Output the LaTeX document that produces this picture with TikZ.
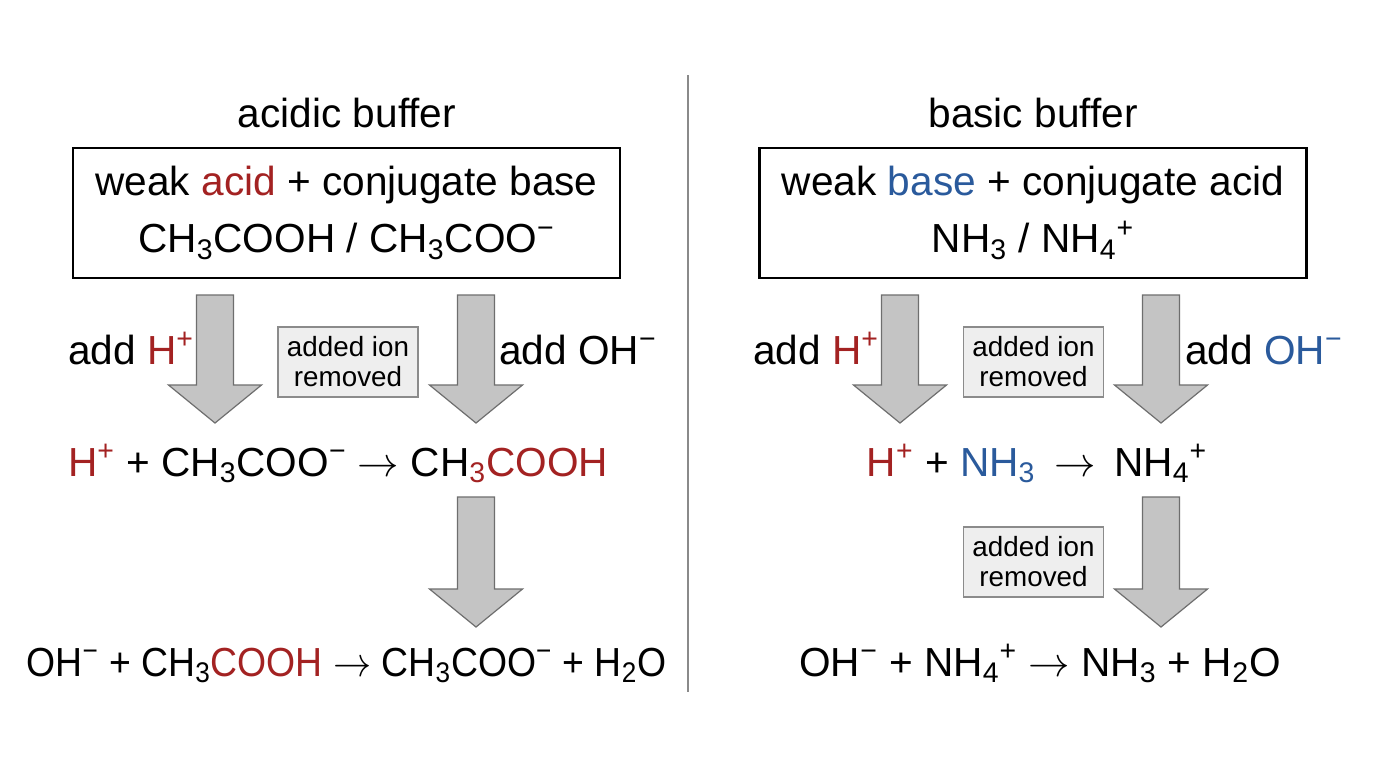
\documentclass[tikz,border=0pt]{standalone}
\usepackage{fontspec}
\setmainfont{Liberation Sans}
\usetikzlibrary{calc}
\definecolor{BufRed}{HTML}{A32222}
\definecolor{BufBlue}{HTML}{2A5A9C}
\definecolor{BufGrey}{HTML}{C4C4C4}
\definecolor{BufEdge}{HTML}{6E6E6E}
\definecolor{BufTag}{HTML}{EEEEEE}
\definecolor{BufRule}{HTML}{8A8A8A}
\tikzset{
  big/.style={font=\fontsize{20.3}{28.5}\selectfont,inner sep=0pt},
  title/.style={big,anchor=base},
  eqn/.style={big,anchor=base},
  mixbox/.style={big,draw=black,line width=1.2pt,align=center,
    minimum width=273.5pt,minimum height=65pt},
  tag/.style={draw=BufEdge!80,fill=BufTag,line width=0.6pt,align=center,inner sep=0pt,
    font=\fontsize{13.9}{15}\selectfont,minimum width=70pt,minimum height=35pt},
  fatarrow/.style={draw=BufEdge,fill=BufGrey,line width=0.6pt,
    to path={let \p1=(\tikztostart),\p2=(\tikztotarget) in
      (\x1-9.25pt,\y1) -- (\x1+9.25pt,\y1) -- (\x1+9.25pt,\y2+19pt)
      -- (\x1+23.25pt,\y2+19pt) -- (\x1,\y2) -- (\x1-23.25pt,\y2+19pt)
      -- (\x1-9.25pt,\y2+19pt) -- cycle}},
  rule/.style={draw=BufRule,line width=0.8pt}
}
\begin{document}
\begin{tikzpicture}[x=0.5pt,y=-0.5pt]
  \useasboundingbox[fill=white] (0,0) rectangle (1376,768);
  \coordinate (ruleTop) at (688,75); \coordinate (ruleEnd) at (688,692);
  \draw[rule] (ruleTop) -- (ruleEnd);

  \node[title] (acidT) at (347,127) {acidic buffer};
  \node[mixbox] (acidMix) at (346.5,213)
    {\raisebox{-1.5pt}{weak \textcolor{BufRed}{acid} + conjugate base}\\\raisebox{-1.5pt}{CH\textsubscript{3}COOH / CH\textsubscript{3}COO\textsuperscript{−}}};
  \node[eqn] (acidAddH) at (131,364) {add \textcolor{BufRed}{H\textsuperscript{+}}};
  \node[eqn] (acidAddOH) at (578,364) {add OH\textsuperscript{−}};
  \node[tag] (acidTag) at (348,362) {added ion\\removed};
  \node[eqn] (acidEqA) at (338,476)
    {\textcolor{BufRed}{H\textsuperscript{+}} + CH\textsubscript{3}COO\textsuperscript{−} $\rightarrow$ CH\textcolor{BufRed}{\textsubscript{3}COOH}};
  \node[eqn] (acidEqB) at (346.5,676)
    {\scalebox{0.92}[1]{OH\textsuperscript{−} + CH\textsubscript{3}\textcolor{BufRed}{COOH} $\rightarrow$ CH\textsubscript{3}COO\textsuperscript{−} + H\textsubscript{2}O}};
  \coordinate (acidHs) at (215,295); \coordinate (acidHe) at (215,423);
  \coordinate (acidOs) at (476,295); \coordinate (acidOe) at (476,423);
  \coordinate (acidNs) at (476,497); \coordinate (acidNe) at (476,627);
  \draw[fatarrow] (acidHs) to (acidHe);
  \draw[fatarrow] (acidOs) to (acidOe);
  \draw[fatarrow] (acidNs) to (acidNe);

  \node[title] (baseT) at (1033,127) {basic buffer};
  \node[mixbox] (baseMix) at (1033,213)
    {\raisebox{-1.5pt}{weak \textcolor{BufBlue}{base} + conjugate acid}\\\raisebox{-1.5pt}{NH\textsubscript{3} / NH\textsubscript{4}\textsuperscript{+}}};
  \node[eqn] (baseAddH) at (816,364) {add \textcolor{BufRed}{H\textsuperscript{+}}};
  \node[eqn] (baseAddOH) at (1264,364) {add \textcolor{BufBlue}{OH\textsuperscript{−}}};
  \node[tag] (baseTagA) at (1033.5,362) {added ion\\removed};
  \node[tag] (baseTagB) at (1033.5,562) {added ion\\removed};
  \node[eqn] (baseEqA) at (1037,476)
    {\textcolor{BufRed}{H\textsuperscript{+}} + \textcolor{BufBlue}{NH\textsubscript{3}}\hspace{0.18em} $\rightarrow$\hspace{0.18em} NH\textsubscript{4}\textsuperscript{+}};
  \node[eqn] (baseEqB) at (1040,676)
    {OH\textsuperscript{−} + NH\textsubscript{4}\textsuperscript{+} $\rightarrow$ NH\textsubscript{3} + H\textsubscript{2}O};
  \coordinate (baseHs) at (900,295); \coordinate (baseHe) at (900,423);
  \coordinate (baseOs) at (1161,295); \coordinate (baseOe) at (1161,423);
  \coordinate (baseNs) at (1161,497); \coordinate (baseNe) at (1161,627);
  \draw[fatarrow] (baseHs) to (baseHe);
  \draw[fatarrow] (baseOs) to (baseOe);
  \draw[fatarrow] (baseNs) to (baseNe);
\end{tikzpicture}
\end{document}
